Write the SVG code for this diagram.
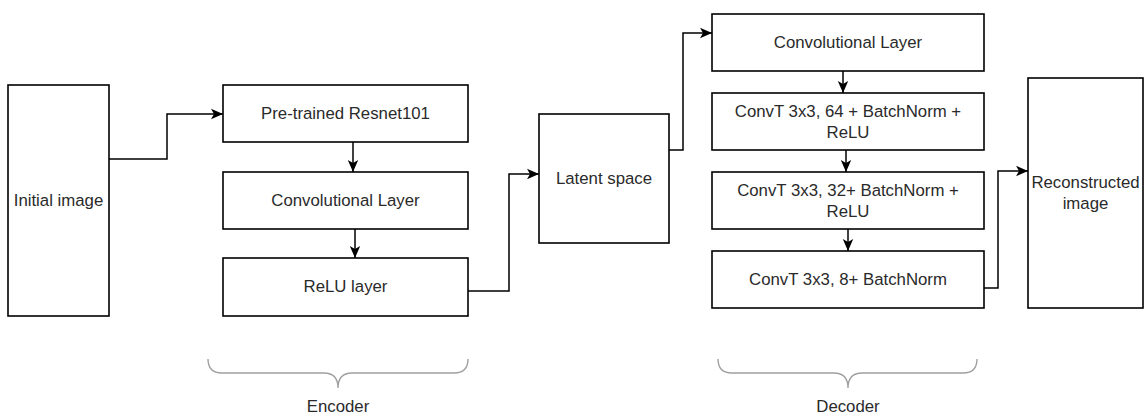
<svg xmlns="http://www.w3.org/2000/svg" width="1145" height="416" viewBox="0 0 1145 416">
  <style>
    .box { fill: #ffffff; stroke: #000000; stroke-width: 1.6; }
    .lbl { font-family: "Liberation Sans", Arial, sans-serif; font-size: 16.8px; fill: #2a2a2a; text-anchor: middle; }
    .edge { fill: none; stroke: #000000; stroke-width: 1.5; marker-end: url(#arrow); }
    .brace { fill: none; stroke: #a0a0a0; stroke-width: 1.4; }
  </style>
  <defs>
    <marker id="arrow" viewBox="0 0 12 12" refX="12" refY="6" markerWidth="12" markerHeight="12" markerUnits="userSpaceOnUse" orient="auto">
      <path d="M0,0.8 L12,6 L0,11.2 L3,6 Z" fill="#000000"/>
    </marker>
  </defs>
  <rect width="1145" height="416" fill="#ffffff"/>

  <!-- input -->
  <g id="initial-image">
    <rect class="box" x="8" y="85" width="101" height="231"/>
    <text class="lbl" x="58.5" y="206">Initial image</text>
  </g>

  <!-- encoder stack -->
  <g id="resnet">
    <rect class="box" x="223" y="85" width="245" height="57"/>
    <text class="lbl" x="345.5" y="119">Pre-trained Resnet101</text>
  </g>
  <g id="enc-conv">
    <rect class="box" x="223" y="172" width="245" height="57"/>
    <text class="lbl" x="345.5" y="206">Convolutional Layer</text>
  </g>
  <g id="enc-relu">
    <rect class="box" x="223" y="258" width="245" height="58"/>
    <text class="lbl" x="345.5" y="292">ReLU layer</text>
  </g>

  <!-- bottleneck -->
  <g id="latent">
    <rect class="box" x="539" y="114" width="130" height="129"/>
    <text class="lbl" x="604" y="184">Latent space</text>
  </g>

  <!-- decoder stack -->
  <g id="dec-conv">
    <rect class="box" x="712" y="14" width="272" height="57"/>
    <text class="lbl" x="848" y="48">Convolutional Layer</text>
  </g>
  <g id="convt-64">
    <rect class="box" x="712" y="93" width="272" height="57"/>
    <text class="lbl" x="848" y="117">ConvT 3x3, 64 + BatchNorm +</text>
    <text class="lbl" x="848" y="138">ReLU</text>
  </g>
  <g id="convt-32">
    <rect class="box" x="712" y="172" width="272" height="57"/>
    <text class="lbl" x="848" y="196">ConvT 3x3, 32+ BatchNorm +</text>
    <text class="lbl" x="848" y="217">ReLU</text>
  </g>
  <g id="convt-8">
    <rect class="box" x="712" y="251" width="272" height="57"/>
    <text class="lbl" x="848" y="285">ConvT 3x3, 8+ BatchNorm</text>
  </g>

  <!-- output -->
  <g id="reconstructed">
    <rect class="box" x="1028" y="78" width="115" height="230"/>
    <text class="lbl" x="1085.5" y="188">Reconstructed</text>
    <text class="lbl" x="1085.5" y="209">image</text>
  </g>

  <!-- connectors -->
  <g id="connectors">
    <path class="edge" d="M109,159 L167,159 L167,114 L223,114"/>
    <path class="edge" d="M353,142 L353,172"/>
    <path class="edge" d="M355,229 L355,258"/>
    <path class="edge" d="M468,291 L509,291 L509,174 L539,174"/>
    <path class="edge" d="M669,150 L683,150 L683,33 L712,33"/>
    <path class="edge" d="M843,71 L843,93"/>
    <path class="edge" d="M846,150 L846,172"/>
    <path class="edge" d="M848,229 L848,251"/>
    <path class="edge" d="M984,288 L998,288 L998,171 L1028,171"/>
  </g>

  <!-- grouping braces -->
  <g id="encoder-brace">
    <path class="brace" d="M208,359 Q208,373 222,373 L324,373 Q338,373 338,388 Q338,373 352,373 L454,373 Q468,373 468,359"/>
    <text class="lbl" x="338" y="412">Encoder</text>
  </g>
  <g id="decoder-brace">
    <path class="brace" d="M718,359 Q718,373 732,373 L834,373 Q848,373 848,388 Q848,373 862,373 L963,373 Q977,373 977,359"/>
    <text class="lbl" x="848" y="412">Decoder</text>
  </g>
</svg>
